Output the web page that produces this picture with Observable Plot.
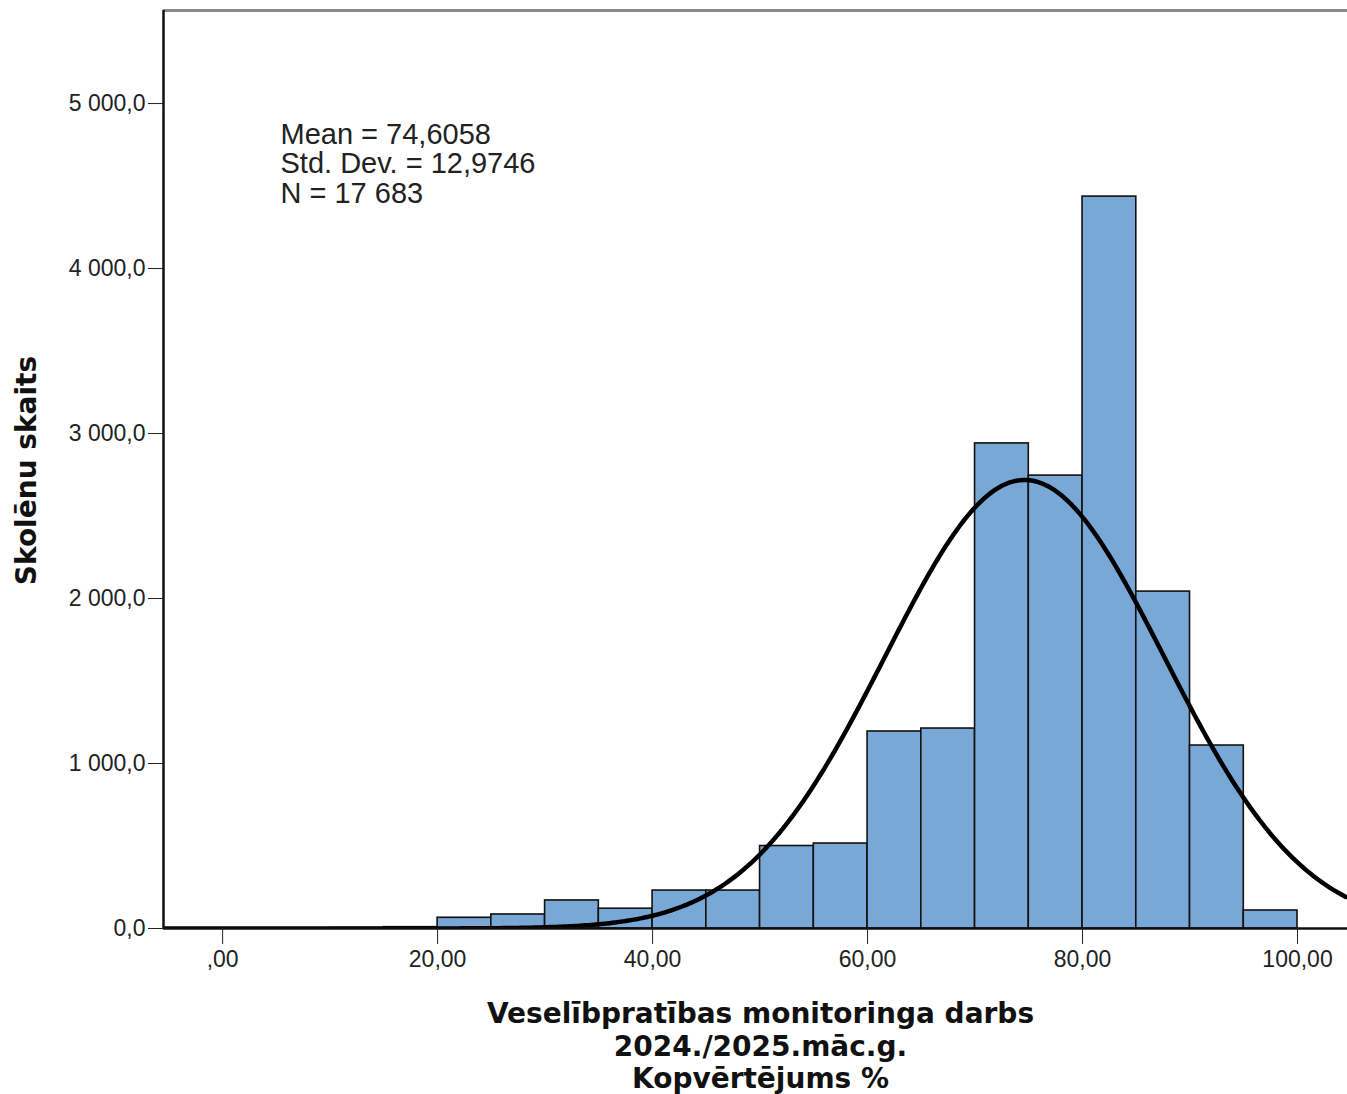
<!DOCTYPE html>
<html>
<head>
<meta charset="utf-8">
<script src="https://cdn.jsdelivr.net/npm/d3@7"></script>
<script src="https://cdn.jsdelivr.net/npm/@observablehq/plot@0.6"></script>
<style>
  html, body { margin: 0; padding: 0; background: #fff; }
  #chart svg { display: block; }
</style>
</head>
<body>
<div id="chart"></div>
<script>
// ---- Data ----
const binStarts = [0, 5, 10, 15, 20, 25, 30, 35, 40, 45, 50, 55, 60, 65, 70, 75, 80, 85, 90, 95];
const binCounts = [0, 0, 3, 8, 65, 85, 170, 120, 230, 230, 500, 515, 1194, 1212, 2940, 2745, 4436, 2042, 1109, 109];
const binWidth = 5;

const statMean = 74.6058;
const statSd = 12.9746;
const statN = 17683;
const statLines = ["Mean = 74,6058", "Std. Dev. = 12,9746", "N = 17 683"];

const yTicks = [0, 1000, 2000, 3000, 4000, 5000];
const yTickLabels = ["0,0", "1 000,0", "2 000,0", "3 000,0", "4 000,0", "5 000,0"];
const xTicks = [0, 20, 40, 60, 80, 100];
const xTickLabels = [",00", "20,00", "40,00", "60,00", "80,00", "100,00"];

const xTitle = ["Veselībpratības monitoringa darbs", "2024./2025.māc.g.", "Kopvērtējums %"];
const yTitle = "Skolēnu skaits";

const xDomain = [-5.5, 104.65];
const yDomain = [0, 5564];

// ---- Derived tables ----
const bars = binStarts.map((s, i) => ({x1: s, x2: s + binWidth, y: binCounts[i]}));
// Fitted normal curve from the stated Mean / Std. Dev. / N
const curve = d3.range(xDomain[0], xDomain[1] + 0.001, 0.25).map(x => ({
  x,
  y: statN * binWidth * Math.exp(-0.5 * ((x - statMean) / statSd) ** 2) / (statSd * Math.sqrt(2 * Math.PI))
}));

const font = "'Liberation Sans', Arial, sans-serif";
const titleFont = "'DejaVu Sans', Verdana, sans-serif";

const chart = Plot.plot({
  width: 1347,
  height: 1094,
  marginTop: 10,
  marginBottom: 166,
  marginLeft: 163,
  marginRight: 0,
  style: {fontFamily: font, background: "#fff", color: "#222"},
  x: {domain: xDomain},
  y: {domain: yDomain},
  marks: [
    Plot.rectY(bars, {x1: "x1", x2: "x2", y: "y", fill: "#79a7d6", stroke: "#111", strokeWidth: 1.6}),
    Plot.line(curve, {x: "x", y: "y", stroke: "#000", strokeWidth: 4.5, clip: true}),
    Plot.ruleY([yDomain[1]], {stroke: "#8a8a8a", strokeWidth: 3}),
    Plot.ruleX([xDomain[0]], {stroke: "#111", strokeWidth: 2.5}),
    Plot.ruleY([0], {stroke: "#111", strokeWidth: 2.5}),
    Plot.axisY({
      ticks: yTicks,
      tickFormat: (d) => yTickLabels[yTicks.indexOf(d)],
      tickSize: 15,
      tickPadding: 3,
      tickStrokeWidth: 2,
      fontSize: 23,
      label: null,
      stroke: "#222"
    }),
    Plot.axisX({
      ticks: xTicks,
      tickFormat: (d) => xTickLabels[xTicks.indexOf(d)],
      tickSize: 16,
      tickPadding: 6,
      fontSize: 23,
      label: null,
      stroke: "#222"
    }),
    Plot.text([statLines.join("\n")], {
      frameAnchor: "top-left",
      dx: 117,
      dy: 112,
      textAnchor: "start",
      lineAnchor: "top",
      lineHeight: 1.02,
      fontSize: 29,
      fill: "#222"
    }),
    Plot.text([xTitle.join("\n")], {
      frameAnchor: "bottom",
      dx: 5,
      dy: 72,
      textAnchor: "middle",
      lineAnchor: "top",
      lineHeight: 1.15,
      fontSize: 28,
      fontWeight: "bold",
      fontFamily: titleFont,
      fill: "#111"
    }),
    Plot.text([yTitle], {
      frameAnchor: "left",
      dx: -136,
      dy: 1,
      rotate: -90,
      textAnchor: "middle",
      lineAnchor: "middle",
      fontSize: 28,
      fontWeight: "bold",
      fontFamily: titleFont,
      fill: "#111"
    })
  ]
});
document.getElementById("chart").appendChild(chart);
</script>
</body>
</html>
